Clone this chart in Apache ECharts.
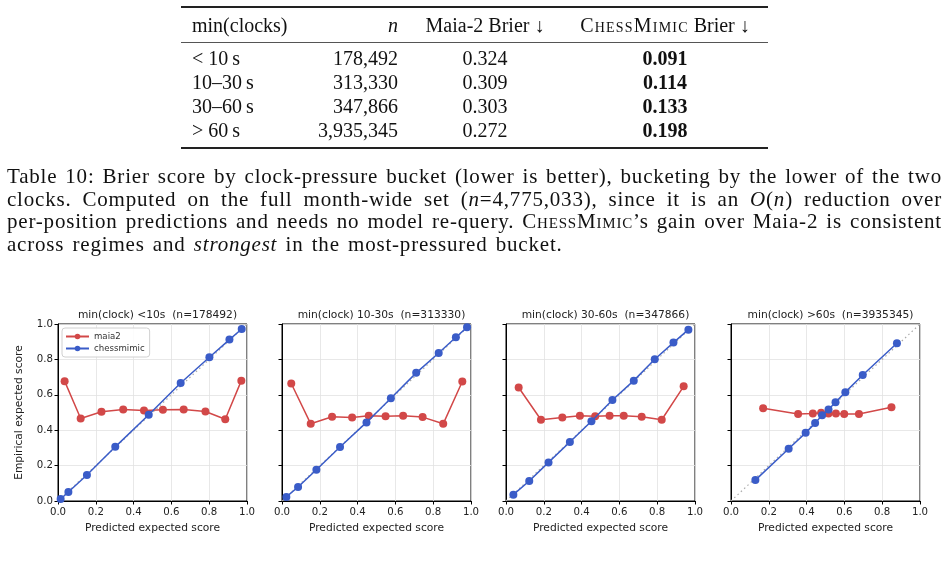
<!DOCTYPE html>
<html>
<head>
<meta charset="utf-8">
<script src="https://cdn.jsdelivr.net/npm/echarts@6.0.0/dist/echarts.min.js"></script>
<style>
  html, body { margin: 0; padding: 0; background: #fff; }
  #page { position: relative; width: 949px; height: 578px; overflow: hidden; }
  #chart { position: absolute; left: 0; top: 0; width: 949px; height: 578px; }
  .tex { position: absolute; font-family: "Liberation Serif", serif; font-size: 20px; color: #111; white-space: nowrap; line-height: 24px; }
  .rule { position: absolute; left: 181px; width: 587px; background: #222; }
  .cap { position: absolute; left: 7px; width: 935px; font-family: "Liberation Serif", serif; font-size: 21px; letter-spacing: 0.8px; line-height: 22.7px; color: #111; text-align: justify; text-align-last: justify; white-space: nowrap; }
  .cap.last { text-align-last: left; word-spacing: 2.2px; }
  .sc { font-variant: small-caps; }
  .tex .sc { letter-spacing: 1.2px; }
</style>
</head>
<body>
<div id="page">
  <div id="chart"></div>
  <div id="table"></div>
  <div class="cap" style="top:164.5px">Table 10: Brier score by clock-pressure bucket (lower is better), bucketing by the lower of the two</div>
  <div class="cap" style="top:187.5px">clocks. Computed on the full month-wide set (<i>n</i>=4,775,033), since it is an <i>O</i>(<i>n</i>) reduction over</div>
  <div class="cap" style="top:209.5px">per-position predictions and needs no model re-query. <span class="sc">ChessMimic</span>’s gain over Maia-2 is consistent</div>
  <div class="cap last" style="top:232.5px">across regimes and <i>strongest</i> in the most-pressured bucket.</div>
</div>
<script>
// table values
const buckets = ['< 10\u2009s', '10–30\u2009s', '30–60\u2009s', '> 60\u2009s'];
const counts = ['178,492', '313,330', '347,866', '3,935,345'];
const maiaBrier = ['0.324', '0.309', '0.303', '0.272'];
const chessBrier = ['0.091', '0.114', '0.133', '0.198'];

// panel titles
const panelTitles = [
  'min(clock) <10s  (n=178492)',
  'min(clock) 10-30s  (n=313330)',
  'min(clock) 30-60s  (n=347866)',
  'min(clock) >60s  (n=3935345)'
];

// reliability points
const maiaX_lt10 = [0.035, 0.12, 0.23, 0.345, 0.455, 0.555, 0.665, 0.78, 0.885, 0.97];
const maiaY_lt10 = [0.677, 0.466, 0.504, 0.517, 0.511, 0.515, 0.517, 0.506, 0.462, 0.680];
const chessX_lt10 = [0.014, 0.055, 0.153, 0.303, 0.48, 0.649, 0.801, 0.907, 0.972];
const chessY_lt10 = [0.011, 0.051, 0.147, 0.306, 0.487, 0.667, 0.812, 0.912, 0.972];

const maiaX_10_30 = [0.049, 0.152, 0.265, 0.371, 0.459, 0.548, 0.641, 0.744, 0.853, 0.954];
const maiaY_10_30 = [0.664, 0.436, 0.476, 0.472, 0.481, 0.479, 0.481, 0.474, 0.436, 0.675];
const chessX_10_30 = [0.023, 0.085, 0.182, 0.307, 0.447, 0.576, 0.71, 0.829, 0.92, 0.979];
const chessY_10_30 = [0.023, 0.079, 0.177, 0.305, 0.444, 0.581, 0.724, 0.836, 0.925, 0.981];

const maiaX_30_60 = [0.067, 0.185, 0.298, 0.391, 0.472, 0.548, 0.623, 0.718, 0.824, 0.94];
const maiaY_30_60 = [0.641, 0.459, 0.472, 0.481, 0.479, 0.481, 0.481, 0.476, 0.459, 0.648];
const chessX_30_60 = [0.039, 0.123, 0.225, 0.338, 0.452, 0.563, 0.676, 0.787, 0.886, 0.965];
const chessY_30_60 = [0.036, 0.113, 0.218, 0.333, 0.451, 0.571, 0.68, 0.801, 0.895, 0.968];

const maiaX_gt60 = [0.17, 0.355, 0.433, 0.477, 0.516, 0.555, 0.599, 0.677, 0.849];
const maiaY_gt60 = [0.524, 0.491, 0.494, 0.498, 0.494, 0.494, 0.492, 0.492, 0.53];
const chessX_gt60 = [0.129, 0.305, 0.395, 0.445, 0.482, 0.516, 0.553, 0.605, 0.697, 0.878];
const chessY_gt60 = [0.118, 0.295, 0.385, 0.44, 0.485, 0.517, 0.558, 0.615, 0.712, 0.891];

const diagonal = [[0, 0], [1, 1]];

const maiaColor = '#d24848';
const chessColor = '#3a5cc8';

// ---- table ----
function buildTable() {
  const t = document.getElementById('table');
  let html = '';
  html += '<div class="rule" style="top:6px;height:1.6px"></div>';
  html += '<div class="rule" style="top:41.5px;height:1px;background:#555"></div>';
  html += '<div class="rule" style="top:147px;height:1.6px"></div>';
  html += '<div class="tex" style="top:13px;left:192px">min(clocks)</div>';
  html += '<div class="tex" style="top:13px;right:' + (949 - 398) + 'px"><i>n</i></div>';
  html += '<div class="tex" style="top:13px;left:485px;transform:translateX(-50%)">Maia-2 Brier ↓</div>';
  html += '<div class="tex" style="top:13px;left:665px;transform:translateX(-50%)"><span class="sc">ChessMimic</span> Brier ↓</div>';
  for (let i = 0; i < buckets.length; i++) {
    const top = 46 + i * 24;
    html += '<div class="tex" style="top:' + top + 'px;left:192px">' + buckets[i].replace('<', '&lt;') + '</div>';
    html += '<div class="tex" style="top:' + top + 'px;right:' + (949 - 398) + 'px">' + counts[i] + '</div>';
    html += '<div class="tex" style="top:' + top + 'px;left:485px;transform:translateX(-50%)">' + maiaBrier[i] + '</div>';
    html += '<div class="tex" style="top:' + top + 'px;left:665px;transform:translateX(-50%)"><b>' + chessBrier[i] + '</b></div>';
  }
  t.innerHTML = html;
}
buildTable();

// ---- charts ----
const panels = [
  { mx: maiaX_lt10, my: maiaY_lt10, cx: chessX_lt10, cy: chessY_lt10 },
  { mx: maiaX_10_30, my: maiaY_10_30, cx: chessX_10_30, cy: chessY_10_30 },
  { mx: maiaX_30_60, my: maiaY_30_60, cx: chessX_30_60, cy: chessY_30_60 },
  { mx: maiaX_gt60, my: maiaY_gt60, cx: chessX_gt60, cy: chessY_gt60 }
];

const gridLefts = [58, 282, 506, 731];
const gridW = 189, gridTop = 324, gridH = 177;
const font = 'DejaVu Sans';

function pairs(xs, ys) {
  return xs.map((x, i) => [x, ys[i]]);
}

const grids = [], xAxes = [], yAxes = [], titles = [], series = [];

panels.forEach((p, i) => {
  grids.push({
    left: gridLefts[i], top: gridTop, width: gridW, height: gridH,
    show: true, borderColor: '#000', borderWidth: 1, backgroundColor: 'transparent'
  });
  titles.push({
    text: panelTitles[i],
    left: gridLefts[i] + gridW / 2, top: 305, textAlign: 'center',
    textStyle: { fontFamily: font, fontSize: 10.7, fontWeight: 'normal', color: '#222' }
  });
  const axisCommon = {
    type: 'value', min: 0, max: 1, interval: 0.2,
    axisLine: { show: true, lineStyle: { color: '#000', width: 1 } },
    axisTick: { show: true, length: 3.5, lineStyle: { color: '#000' } },
    splitLine: { show: true, lineStyle: { color: '#e2e2e2', width: 0.8 } }
  };
  xAxes.push(Object.assign({}, axisCommon, {
    gridIndex: i,
    name: 'Predicted expected score', nameLocation: 'middle', nameGap: 22,
    nameTextStyle: { fontFamily: font, fontSize: 10.7, color: '#222' },
    axisLabel: { fontFamily: font, fontSize: 10.2, color: '#222', margin: 6,
      formatter: v => v.toFixed(1), showMinLabel: true, showMaxLabel: true }
  }));
  yAxes.push(Object.assign({}, axisCommon, {
    gridIndex: i,
    name: i === 0 ? 'Empirical expected score' : '', nameLocation: 'middle', nameGap: 33,
    nameTextStyle: { fontFamily: font, fontSize: 10.7, color: '#222' },
    axisLabel: { show: i === 0, fontFamily: font, fontSize: 10.2, color: '#222', margin: 5,
      formatter: v => v.toFixed(1) }
  }));
  series.push({
    type: 'line', xAxisIndex: i, yAxisIndex: i, data: diagonal,
    symbol: 'none', silent: true, z: 1,
    lineStyle: { color: '#aaaaaa', width: 1.2, type: [1.5, 3] }
  });
  series.push({
    name: 'maia2', type: 'line', xAxisIndex: i, yAxisIndex: i,
    data: pairs(p.mx, p.my), symbol: 'circle', symbolSize: 8, z: 3,
    itemStyle: { color: maiaColor }, lineStyle: { color: maiaColor, width: 1.5 }
  });
  series.push({
    name: 'chessmimic', type: 'line', xAxisIndex: i, yAxisIndex: i,
    data: pairs(p.cx, p.cy), symbol: 'circle', symbolSize: 8, z: 4,
    itemStyle: { color: chessColor }, lineStyle: { color: chessColor, width: 1.5 }
  });
});

const chart = echarts.init(document.getElementById('chart'));
chart.setOption({
  animation: false,
  title: titles,
  grid: grids,
  xAxis: xAxes,
  yAxis: yAxes,
  legend: {
    data: ['maia2', 'chessmimic'],
    orient: 'vertical', left: 62, top: 328,
    backgroundColor: 'rgba(255,255,255,0.85)',
    borderColor: '#d0d0d0', borderWidth: 1, borderRadius: 3,
    padding: [4, 5, 4, 3], itemGap: 3, itemWidth: 23, itemHeight: 7,
    textStyle: { fontFamily: font, fontSize: 8.6, color: '#333' }
  },
  series: series
});
</script>
</body>
</html>
